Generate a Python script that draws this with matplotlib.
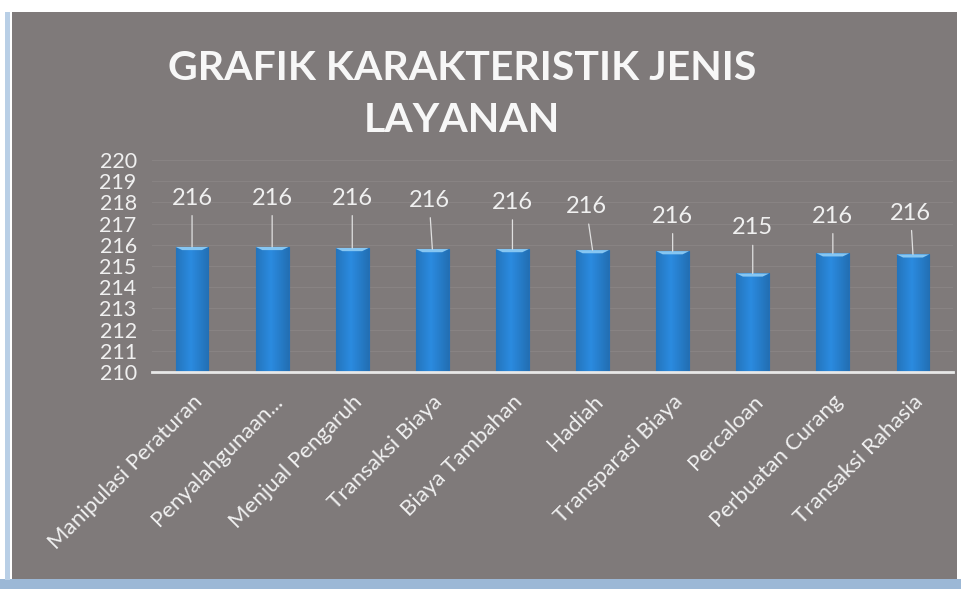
import numpy as np
import matplotlib.pyplot as plt
from matplotlib.patches import Rectangle

# Lato is the nearest installed match to the Calibri look of the original
plt.rcParams['font.family'] = ['Lato', 'DejaVu Sans']

# Data
categories = ['Manipulasi Peraturan', 'Penyalahgunaan...', 'Menjual Pengaruh',
              'Transaksi Biaya', 'Biaya Tambahan', 'Hadiah', 'Transparasi Biaya',
              'Percaloan', 'Perbuatan Curang', 'Transaksi Rahasia']
values = [215.9, 215.9, 215.85, 215.8, 215.8, 215.75, 215.7, 214.65, 215.6, 215.55]
y_ticks = list(range(210, 221))
title = 'GRAFIK KARAKTERISTIK JENIS\nLAYANAN'

# Colours
panel_grey = '#7f7a7a'
text_col = '#f0f0f0'
bar_col = '#2b8be0'

fig = plt.figure(figsize=(9.62, 5.89), dpi=100, facecolor='white')
W, H = 962, 589

# grey chart panel plus the blue edge of the scan
fig.patches.append(Rectangle((12 / W, 9 / H), 945 / W, 568 / H, transform=fig.transFigure,
                             facecolor=panel_grey, edgecolor='none', zorder=-2))
fig.patches.append(Rectangle((0, 0), 1, 10 / H, transform=fig.transFigure,
                             facecolor='#9cb8d6', edgecolor='none', zorder=-2))
fig.patches.append(Rectangle((5 / W, 9 / H), 5 / W, 568 / H, transform=fig.transFigure,
                             facecolor='#b9cfe6', edgecolor='none', zorder=-2))

ax = fig.add_axes([152 / W, 1 - 372 / H, 801 / W, 212 / H])
ax.set_facecolor('none')

x = np.arange(len(categories))
bars = ax.bar(x, [v - 210 for v in values], bottom=210, width=0.41,
              color=bar_col, edgecolor='#2370b8', linewidth=0.8, zorder=3)

# gentle left-to-right shading on each bar
grad = np.linspace(0, 1, 64).reshape(1, -1)
grad = 1 - 0.18 * np.abs(grad - 0.45) * 2
for b in bars:
    x0, y0 = b.get_x(), b.get_y()
    w, h = b.get_width(), b.get_height()
    rgb = np.array([43, 139, 224]) / 255.0
    img = (grad[..., None] * rgb).clip(0, 1)
    im = ax.imshow(img, extent=(x0, x0 + w, y0, y0 + h), aspect='auto', zorder=4)
    im.set_clip_path(b)
    # light bevel on top
    ax.fill([x0, x0 + w, x0 + w * 0.8, x0 + w * 0.2],
            [y0 + h, y0 + h, y0 + h - 0.15, y0 + h - 0.15],
            color='#86c6f2', lw=0, zorder=5)

ax.set_xlim(-0.5, len(categories) - 0.5)
ax.set_ylim(210, 220)
ax.set_yticks(y_ticks)
ax.set_yticklabels([str(t) for t in y_ticks], color=text_col, fontsize=15.5)
ax.tick_params(axis='y', length=0, pad=11)
ax.tick_params(axis='x', length=0, pad=14)
ax.set_xticks(x)
ax.set_xticklabels(categories, rotation=45, ha='right', rotation_mode='anchor',
                   color=text_col, fontsize=16)
ax.grid(axis='y', color='#888383', linewidth=0.8, zorder=1)
for s in ['top', 'right', 'left']:
    ax.spines[s].set_visible(False)
ax.spines['bottom'].set_color('#e8e8e8')
ax.spines['bottom'].set_linewidth(2)
ax.spines['bottom'].set_zorder(6)

# data labels with leader lines
label_rise = [2.3, 2.3, 2.35, 2.3, 2.2, 2.05, 1.65, 2.15, 1.75, 1.95]
label_shift = [0, 0, 0, -0.04, 0, -0.08, 0, 0, 0, -0.03]
for i, v in enumerate(values):
    ax.annotate(f'{v:.0f}', xy=(i, v), xytext=(i + label_shift[i], v + label_rise[i]),
                ha='center', va='center', color=text_col, fontsize=17,
                arrowprops=dict(arrowstyle='-', color='#e0e0e0', lw=0.9,
                                shrinkA=3, shrinkB=0), zorder=7)

fig.text(462 / W, 1 - 95 / H, title, ha='center', va='center', color='#f7f7f7',
         fontsize=29.5, fontweight='bold', linespacing=1.5)

fig.savefig('out.png', dpi=100, facecolor='white')
